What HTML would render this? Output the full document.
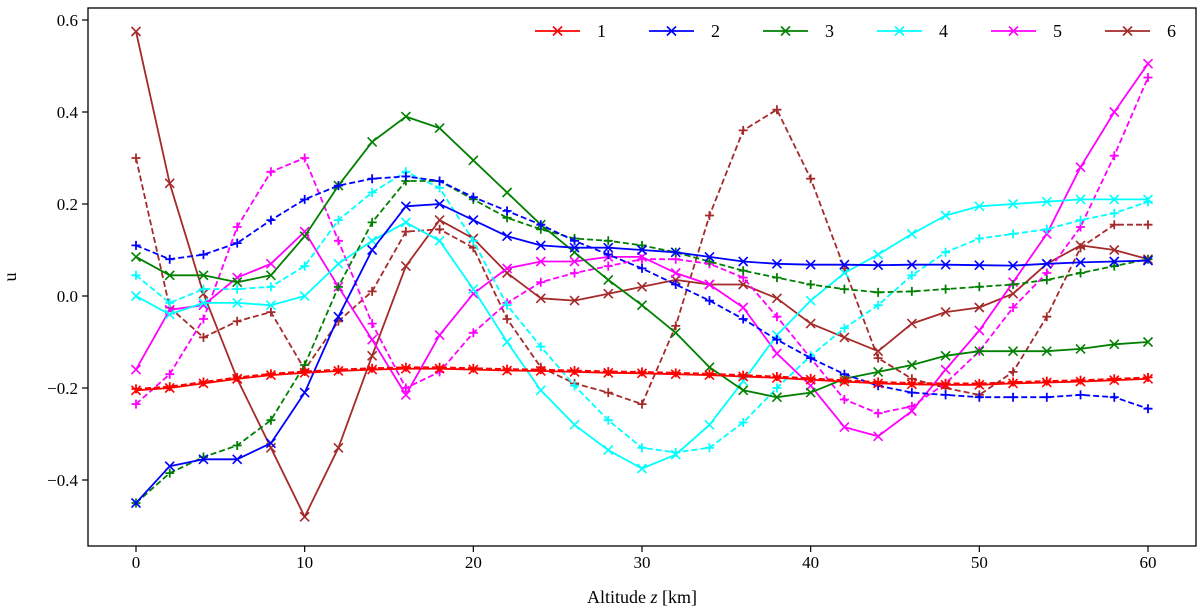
<!DOCTYPE html>
<html><head><meta charset="utf-8"><style>
body{margin:0;background:#fff}
svg{display:block;font-family:"Liberation Serif",serif}
</style></head><body>
<svg id="chart" width="1200" height="614" xmlns="http://www.w3.org/2000/svg"></svg>
<script>
const altitudes=[0,2,4,6,8,10,12,14,16,18,20,22,24,26,28,30,32,34,36,38,40,42,44,46,48,50,52,54,56,58,60];
const xTicks=[0,10,20,30,40,50,60];
const yTicks=[-0.4,-0.2,0.0,0.2,0.4,0.6];
const yTickLabels=["\u22120.4","\u22120.2","0.0","0.2","0.4","0.6"];
const seriesNames=["1","2","3","4","5","6"];
const s1Solid=[-0.205,-0.2,-0.19,-0.18,-0.172,-0.167,-0.163,-0.16,-0.158,-0.158,-0.16,-0.162,-0.163,-0.165,-0.167,-0.168,-0.17,-0.172,-0.175,-0.178,-0.182,-0.186,-0.19,-0.192,-0.193,-0.193,-0.19,-0.188,-0.186,-0.183,-0.18];
const s1Dash=[-0.202,-0.197,-0.187,-0.177,-0.169,-0.164,-0.16,-0.157,-0.155,-0.155,-0.157,-0.159,-0.16,-0.162,-0.164,-0.165,-0.167,-0.169,-0.172,-0.175,-0.179,-0.183,-0.187,-0.189,-0.19,-0.19,-0.187,-0.185,-0.183,-0.18,-0.177];
const s2Solid=[-0.45,-0.37,-0.355,-0.355,-0.32,-0.21,-0.045,0.1,0.195,0.2,0.165,0.13,0.11,0.105,0.105,0.1,0.095,0.085,0.075,0.07,0.068,0.068,0.067,0.068,0.068,0.067,0.066,0.07,0.073,0.075,0.077];
const s2Dash=[0.11,0.08,0.09,0.115,0.165,0.21,0.24,0.255,0.26,0.25,0.215,0.185,0.155,0.12,0.09,0.06,0.025,-0.01,-0.05,-0.095,-0.135,-0.17,-0.195,-0.21,-0.215,-0.22,-0.22,-0.22,-0.215,-0.22,-0.245];
const s3Solid=[0.085,0.045,0.045,0.03,0.045,0.13,0.24,0.335,0.39,0.365,0.295,0.225,0.155,0.095,0.035,-0.02,-0.08,-0.155,-0.205,-0.22,-0.21,-0.18,-0.165,-0.15,-0.13,-0.12,-0.12,-0.12,-0.115,-0.105,-0.1];
const s3Dash=[-0.45,-0.385,-0.35,-0.325,-0.27,-0.15,0.02,0.16,0.25,0.25,0.21,0.17,0.145,0.125,0.12,0.11,0.095,0.075,0.055,0.04,0.025,0.015,0.008,0.01,0.015,0.02,0.025,0.035,0.05,0.065,0.08];
const s4Solid=[0.0,-0.04,-0.015,-0.015,-0.02,0.0,0.07,0.12,0.16,0.12,0.015,-0.1,-0.205,-0.28,-0.335,-0.375,-0.345,-0.28,-0.185,-0.085,-0.01,0.05,0.09,0.135,0.175,0.195,0.2,0.205,0.21,0.21,0.21];
const s4Dash=[0.045,-0.015,0.015,0.015,0.02,0.065,0.165,0.225,0.27,0.235,0.12,-0.02,-0.11,-0.195,-0.27,-0.33,-0.34,-0.33,-0.275,-0.2,-0.13,-0.07,-0.02,0.045,0.095,0.125,0.135,0.145,0.165,0.18,0.205];
const s5Solid=[-0.16,-0.03,-0.02,0.04,0.07,0.14,0.02,-0.095,-0.215,-0.085,0.005,0.06,0.075,0.075,0.085,0.085,0.05,0.025,-0.025,-0.125,-0.195,-0.285,-0.305,-0.25,-0.16,-0.075,0.03,0.135,0.28,0.4,0.505];
const s5Dash=[-0.235,-0.17,-0.05,0.15,0.27,0.3,0.12,-0.06,-0.2,-0.165,-0.08,-0.015,0.03,0.05,0.065,0.08,0.08,0.07,0.04,-0.045,-0.135,-0.225,-0.255,-0.24,-0.19,-0.12,-0.025,0.05,0.15,0.305,0.475];
const s6Solid=[0.575,0.245,0.005,-0.18,-0.33,-0.48,-0.33,-0.13,0.065,0.165,0.125,0.05,-0.005,-0.01,0.005,0.02,0.035,0.025,0.025,-0.005,-0.06,-0.09,-0.12,-0.06,-0.035,-0.025,0.005,0.07,0.11,0.1,0.08];
const s6Dash=[0.3,-0.025,-0.09,-0.055,-0.035,-0.16,-0.055,0.01,0.14,0.145,0.105,-0.05,-0.155,-0.19,-0.21,-0.235,-0.065,0.175,0.36,0.405,0.255,0.06,-0.135,-0.18,-0.2,-0.215,-0.165,-0.045,0.105,0.155,0.155];

const colors=["#ff0000","#0000ff","#008000","#00ffff","#ff00ff","#a52a2a"];
const solids=[s1Solid,s2Solid,s3Solid,s4Solid,s5Solid,s6Solid];
const dashes=[s1Dash,s2Dash,s3Dash,s4Dash,s5Dash,s6Dash];

const NS="http://www.w3.org/2000/svg";
const svg=document.getElementById('chart');
const L=88,R=1196,T=8,B=546;
const xs=z=>136+(z-0)*(1148-136)/60;
const ys=v=>296-v*460;
function mk(tag,attrs,parent){const e=document.createElementNS(NS,tag);for(const k in attrs)e.setAttribute(k,attrs[k]);(parent||svg).appendChild(e);return e;}

const frame=mk('rect',{x:L,y:T,width:R-L,height:B-T,fill:'none',stroke:'#000','stroke-width':1.3});



xTicks.forEach(t=>{
  const g=mk('g',{});
  
  
  mk('line',{x1:xs(t),x2:xs(t),y1:B,y2:B+6,stroke:'#000','stroke-width':1.2},g);
  const tx=mk('text',{x:xs(t),y:B+22,'text-anchor':'middle','font-size':17},g);tx.textContent=t;
});
yTicks.forEach((t,i)=>{
  const g=mk('g',{});
  
  
  mk('line',{x1:L-6,x2:L,y1:ys(t),y2:ys(t),stroke:'#000','stroke-width':1.2},g);
  const tx=mk('text',{x:L-10,y:ys(t)+6,'text-anchor':'end','font-size':17},g);tx.textContent=yTickLabels[i];
});
const xt=mk('text',{x:642,y:603,'text-anchor':'middle','font-size':18});


xt.innerHTML='Altitude <tspan font-style="italic">z</tspan> [km]';
const yt=mk('text',{x:16,y:277,'text-anchor':'middle','font-size':18,transform:'rotate(-90 16 277)'});


yt.textContent='u';

function marker(g,x,y,type,c){
  const s=4.5;
  if(type==='x'){
    mk('path',{d:`M${x-s} ${y-s}L${x+s} ${y+s}M${x-s} ${y+s}L${x+s} ${y-s}`,stroke:c,'stroke-width':1.6},g);
  }else{
    mk('path',{d:`M${x-s} ${y}L${x+s} ${y}M${x} ${y-s}L${x} ${y+s}`,stroke:c,'stroke-width':1.8},g);
  }
}
function series(vals,c,dashed,name){
  const g=mk('g',{});
  
  
  const d=vals.map((v,i)=>(i?'L':'M')+xs(altitudes[i]).toFixed(1)+' '+ys(v).toFixed(1)).join('');
  const a={d:d,fill:'none',stroke:c,'stroke-width':1.8,'stroke-linejoin':'round'};
  if(dashed)a['stroke-dasharray']='6 3';
  mk('path',a,g);
  vals.forEach((v,i)=>marker(g,xs(altitudes[i]),ys(v),dashed?'+':'x',c));
}
for(let k=5;k>=0;k--){
  series(dashes[k],colors[k],true,'series-'+seriesNames[k]+'-dashed');
  series(solids[k],colors[k],false,'series-'+seriesNames[k]+'-solid');
}
seriesNames.forEach((n,i)=>{
  const g=mk('g',{});
  
  
  const x0=535+i*114;
  mk('line',{x1:x0,x2:x0+45,y1:31,y2:31,stroke:colors[i],'stroke-width':1.8},g);
  marker(g,x0+22.5,31,'x',colors[i]);
  const t=mk('text',{x:x0+62,y:37,'font-size':18},g);t.textContent=n;
});
</script>
</body></html>
